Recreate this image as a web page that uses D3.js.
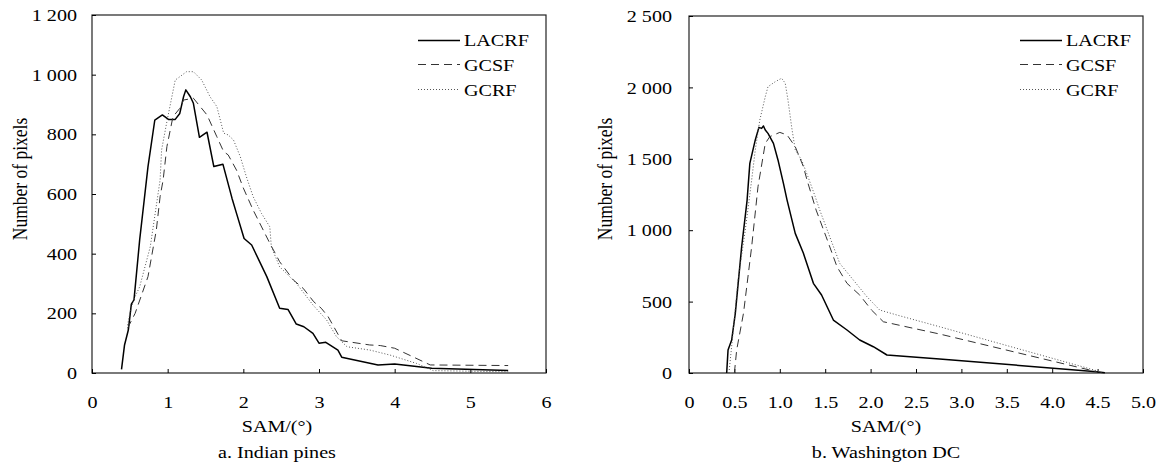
<!DOCTYPE html>
<html>
<head>
<meta charset="utf-8">
<script src="https://cdn.jsdelivr.net/npm/d3@7"></script>
<style>
  body { margin: 0; background: #fff; }
  svg { display: block; }
  text { font-family: "Liberation Serif", "Times New Roman", serif; font-size: 17.5px; fill: #000; }
</style>
</head>
<body>
<div class="chart"></div>
<script>
//Series names and line styles order
var seriesNames = ["LACRF", "GCSF", "GCRF"];

//a. Indian pines - [SAM degrees, pixel count]
var pinesLACRF = [[0.39,12],[0.43,94],[0.48,144],[0.52,231],[0.555,245],[0.63,446],[0.69,580],[0.74,692],[0.83,848],[0.93,865],[1.01,850],[1.10,850],[1.16,870],[1.21,926],[1.24,949],[1.30,926],[1.34,904],[1.42,790],[1.52,807],[1.61,692],[1.73,700],[1.85,586],[1.91,535],[2.01,451],[2.11,429],[2.31,323],[2.48,217],[2.59,213],[2.70,164],[2.80,155],[2.92,133],[3.00,100],[3.09,103],[3.25,77],[3.30,53],[3.78,27],[4.0,30],[4.49,16],[5.5,8]];
var pinesGCSF = [[0.47,150],[0.57,200],[0.74,323],[0.85,479],[0.90,591],[0.94,647],[0.99,759],[1.07,859],[1.16,887],[1.21,915],[1.34,921],[1.43,893],[1.52,865],[1.65,792],[1.74,742],[1.80,731],[1.91,680],[2.0,620],[2.13,546],[2.35,435],[2.48,373],[2.66,312],[2.79,284],[2.93,239],[3.03,217],[3.12,189],[3.30,108],[3.67,94],[3.81,92],[4.0,83],[4.47,27],[5.5,25]];
var pinesGCRF = [[0.47,160],[0.50,200],[0.55,245],[0.63,289],[0.77,423],[0.90,647],[0.92,748],[0.99,843],[1.10,982],[1.16,993],[1.25,1010],[1.34,1010],[1.45,982],[1.56,926],[1.65,893],[1.74,804],[1.80,798],[1.87,781],[1.96,725],[2.04,658],[2.13,591],[2.24,535],[2.35,490],[2.37,423],[2.48,356],[2.70,301],[2.92,228],[3.10,178],[3.23,122],[3.37,88],[3.67,77],[3.94,60],[4.29,32],[4.51,8],[5.5,4]];

//b. Washington DC
var dcLACRF = [[0.415,0],[0.43,161],[0.47,231],[0.51,418],[0.58,884],[0.64,1211],[0.67,1468],[0.73,1632],[0.77,1720],[0.80,1713],[0.82,1730],[0.84,1702],[0.87,1678],[0.93,1608],[0.98,1492],[1.04,1328],[1.08,1211],[1.17,978],[1.26,838],[1.37,628],[1.46,546],[1.59,371],[1.74,301],[1.88,231],[2.03,184],[2.18,126],[2.76,98],[4.49,9],[4.58,2]];
var dcGCSF = [[0.50,0],[0.525,161],[0.60,418],[0.69,884],[0.76,1305],[0.84,1608],[0.89,1655],[1.0,1685],[1.08,1667],[1.17,1585],[1.26,1445],[1.30,1351],[1.40,1141],[1.51,954],[1.63,744],[1.74,628],[1.88,546],[2.01,441],[2.14,359],[2.47,313],[2.76,273],[4.49,9]];
var dcGCRF = [[0.44,0],[0.48,250],[0.54,651],[0.62,1001],[0.69,1351],[0.73,1562],[0.78,1772],[0.84,1935],[0.87,2005],[0.95,2040],[1.02,2064],[1.06,2029],[1.09,1912],[1.13,1725],[1.17,1562],[1.24,1492],[1.31,1375],[1.39,1235],[1.44,1141],[1.55,954],[1.66,768],[1.81,651],[1.96,534],[2.10,441],[2.29,406],[2.76,324],[4.49,16],[4.55,0]];

//Axis ticks
var pinesXTicks = [0, 1, 2, 3, 4, 5, 6];
var pinesYTicks = [0, 200, 400, 600, 800, 1000, 1200];
var dcXTicks = [0, 0.5, 1.0, 1.5, 2.0, 2.5, 3.0, 3.5, 4.0, 4.5, 5.0];
var dcYTicks = [0, 500, 1000, 1500, 2000, 2500];

var styles = [
    { stroke: "#000", width: 1.5, dash: null },
    { stroke: "#333", width: 1, dash: "8,5" },
    { stroke: "#555", width: 1, dash: "1,2" }
];

//Glyphs in the reference are a bit wider than Times, stretch them
var STRETCH = 1.15;

var svg = d3.select(".chart").append("svg")
    .attr("width", 1164)
    .attr("height", 468);

function stretchText(g, x, y, str, anchor, rotate) {
    return g.append("text")
        .attr("transform", `translate(${x},${y}) scale(${STRETCH},1)` + (rotate ? " rotate(-90)" : ""))
        .attr("text-anchor", anchor)
        .text(str);
}

var spaceFmt = d => d3.format(",")(d).replace(",", " ");

function drawPanel(opt) {
    const x = d3.scaleLinear().domain(opt.xDomain).range([opt.left, opt.right]);
    const y = d3.scaleLinear().domain(opt.yDomain).range([opt.bottom, opt.top]);
    const g = svg.append("g");

    //Frame
    g.append("rect")
        .attr("x", opt.left)
        .attr("y", opt.top)
        .attr("width", opt.right - opt.left)
        .attr("height", opt.bottom - opt.top)
        .attr("fill", "none")
        .attr("stroke", "#222")
        .attr("stroke-width", 1.2);

    //Y axis, ticks pointing inward
    const yAxis = g.append("g")
        .attr("transform", `translate(${opt.left},0)`)
        .call(d3.axisLeft(y).tickValues(opt.yTicks).tickFormat(spaceFmt).tickSizeInner(-4).tickSizeOuter(0));
    yAxis.select(".domain").remove();
    yAxis.selectAll("text")
        .attr("x", null)
        .attr("dy", "0.32em")
        .attr("transform", `translate(${-opt.yPad},0) scale(${STRETCH},1)`)
        .attr("font-family", null).attr("font-size", null);

    //X axis
    const xAxis = g.append("g")
        .attr("transform", `translate(0,${opt.bottom})`)
        .call(d3.axisBottom(x).tickValues(opt.xTicks).tickFormat(opt.xFormat).tickSizeInner(-4).tickSizeOuter(0));
    xAxis.select(".domain").remove();
    xAxis.selectAll("text")
        .attr("y", null)
        .attr("dy", null)
        .attr("transform", `translate(0,35) scale(${STRETCH},1)`)
        .attr("font-family", null).attr("font-size", null);
    g.selectAll(".tick line").attr("stroke", "#000");

    //Curves
    const line = d3.line().x(d => x(d[0])).y(d => y(d[1]));
    opt.series.forEach((s, i) => {
        g.append("path")
            .datum(s)
            .attr("d", line)
            .attr("fill", "none")
            .attr("stroke", styles[i].stroke)
            .attr("stroke-width", styles[i].width)
            .attr("stroke-dasharray", styles[i].dash)
            .attr("stroke-linejoin", "round");
    });

    //Legend
    const rowsLine = [40.5, 64.5, 89.5];
    const rowsText = [45.5, 71, 96];
    seriesNames.forEach((name, i) => {
        g.append("line")
            .attr("x1", opt.legendX)
            .attr("x2", opt.legendX + 42)
            .attr("y1", rowsLine[i])
            .attr("y2", rowsLine[i])
            .attr("stroke", styles[i].stroke)
            .attr("stroke-width", styles[i].width)
            .attr("stroke-dasharray", styles[i].dash);
        stretchText(g, opt.legendX + 46, rowsText[i], name, "start");
    });

    //Labels
    stretchText(g, opt.labelX, 179, "Number of pixels", "middle", true).attr("dy", "0.35em");
    stretchText(g, opt.captionX, 432, "SAM/(°)", "middle");
    stretchText(g, opt.captionX, 458, opt.caption, "middle");
}

drawPanel({
    left: 92, right: 546, top: 15, bottom: 373,
    xDomain: [0, 6], yDomain: [0, 1200],
    xTicks: pinesXTicks, yTicks: pinesYTicks,
    xFormat: d3.format("d"), yPad: 15,
    series: [pinesLACRF, pinesGCSF, pinesGCRF],
    legendX: 418, labelX: 20, captionX: 277,
    caption: "a. Indian pines"
});

drawPanel({
    left: 689, right: 1143, top: 16, bottom: 373,
    xDomain: [0, 5], yDomain: [0, 2500],
    xTicks: dcXTicks, yTicks: dcYTicks,
    xFormat: d => d === 0 ? "0" : d.toFixed(1), yPad: 17,
    series: [dcLACRF, dcGCSF, dcGCRF],
    legendX: 1020, labelX: 605, captionX: 886,
    caption: "b. Washington DC"
});
</script>
</body>
</html>
